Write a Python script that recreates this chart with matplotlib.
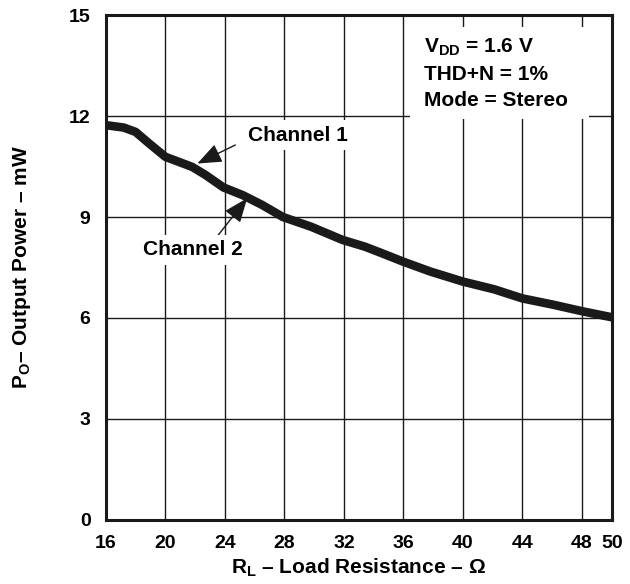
import matplotlib.pyplot as plt
from matplotlib.patches import Rectangle

plt.rcParams['font.family'] = ['Liberation Sans', 'DejaVu Sans']
plt.rcParams['font.weight'] = 'bold'
plt.rcParams['mathtext.fontset'] = 'custom'
plt.rcParams['mathtext.rm'] = 'Liberation Sans:bold'
plt.rcParams['mathtext.it'] = 'Liberation Sans:bold'
plt.rcParams['mathtext.bf'] = 'Liberation Sans:bold'

# load resistance (ohm) vs output power (mW)
rl = [16, 17.2, 18, 18.9, 20, 20.9, 21.8, 22.7, 23.9, 25.2, 26.5, 27.9,
      29.8, 31.9, 33.4, 34.4, 36, 37.8, 40, 42.1, 44, 46.1, 48, 50]
po = [11.73, 11.66, 11.53, 11.19, 10.79, 10.64, 10.49, 10.25, 9.88, 9.65, 9.36, 9.0,
      8.71, 8.32, 8.12, 7.95, 7.67, 7.38, 7.08, 6.85, 6.58, 6.39, 6.2, 6.02]

x_ticks = [16, 20, 24, 28, 32, 36, 40, 44, 48, 50]
y_ticks = [0, 3, 6, 9, 12, 15]

fig = plt.figure(figsize=(6.3, 5.84), dpi=100)
ax = fig.add_axes([0.168, 0.110, 0.803, 0.864])

ax.plot(rl, po, color='#1a1a1a', lw=6.2, solid_capstyle='round', solid_joinstyle='round', zorder=3)

ax.set_xlim(16, 50)
ax.set_ylim(0, 15)
ax.set_xticks(x_ticks)
ax.set_yticks(y_ticks)
ax.tick_params(axis='x', length=0, labelsize=14, pad=11)
ax.tick_params(axis='y', length=0, labelsize=14, pad=11)
ax.grid(True, color='#1a1a1a', lw=1.0)
for s in ax.spines.values():
    s.set_linewidth(2.2)
    s.set_color('#1a1a1a')

ax.set_xlabel(r'R$_{\mathrm{L}}$ – Load Resistance – Ω', fontsize=15, fontweight='bold', labelpad=3)
ax.set_ylabel(r'P$_{\mathrm{O}}$– Output Power – mW', fontsize=15, fontweight='bold', labelpad=26)

# white panel behind the conditions text
ax.add_patch(Rectangle((36.45, 11.9), 12.0, 2.75, facecolor='white', edgecolor='none', zorder=2.5))
ax.text(37.35, 14.35, 'V$_{\\mathrm{DD}}$ = 1.6 V\nTHD+N = 1%\nMode = Stereo', fontsize=15,
        fontweight='bold', va='top', ha='left', linespacing=1.45, zorder=4)

arrow = dict(arrowstyle='-|>,head_length=1.0,head_width=0.4', color='#1a1a1a', lw=1.0,
             shrinkA=0, shrinkB=0, mutation_scale=15)
ax.annotate('', xy=(22.15, 10.59), xytext=(24.7, 11.14), arrowprops=arrow, zorder=4)
ax.annotate('', xy=(25.5, 9.56), xytext=(23.55, 8.46), arrowprops=arrow, zorder=4)
ax.text(28.93, 11.43, 'Channel 1', fontsize=15, fontweight='bold', ha='center', va='center',
        bbox=dict(facecolor='white', edgecolor='none', pad=4), zorder=4)
ax.text(21.86, 8.02, 'Channel 2', fontsize=15, fontweight='bold', ha='center', va='center',
        bbox=dict(facecolor='white', edgecolor='none', pad=4), zorder=4)

fig.savefig('out.png', dpi=100)
